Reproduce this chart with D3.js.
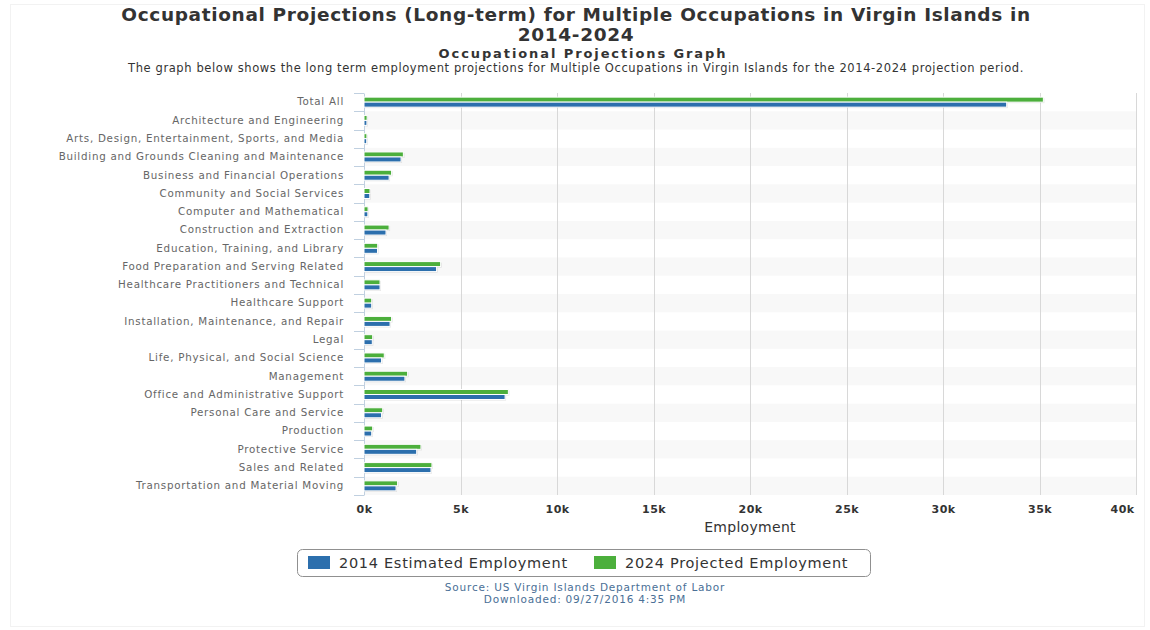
<!DOCTYPE html>
<html><head><meta charset="utf-8">
<script src="https://cdn.jsdelivr.net/npm/d3@7/dist/d3.min.js"></script>
<style>body{margin:0;background:#fff}svg{display:block}</style>
</head><body><svg id="c" width="1150" height="630"></svg>
<script>
const categories = ["Total All","Architecture and Engineering","Arts, Design, Entertainment, Sports, and Media","Building and Grounds Cleaning and Maintenance","Business and Financial Operations","Community and Social Services","Computer and Mathematical","Construction and Extraction","Education, Training, and Library","Food Preparation and Serving Related","Healthcare Practitioners and Technical","Healthcare Support","Installation, Maintenance, and Repair","Legal","Life, Physical, and Social Science","Management","Office and Administrative Support","Personal Care and Service","Production","Protective Service","Sales and Related","Transportation and Material Moving"];
const est2014 = [33300,150,140,1920,1300,300,200,1140,700,3760,830,400,1350,430,910,2120,7310,910,400,2730,3470,1660];
const proj2024 = [35200,160,150,2040,1430,310,210,1300,710,3970,830,400,1430,450,1050,2260,7480,970,450,2950,3520,1740];
const xTicks = [0,5000,10000,15000,20000,25000,30000,35000,40000];
const seriesNames = ["2014 Estimated Employment","2024 Projected Employment"];
const colors = ["#2c6fad","#4caf3c"];

(function(){
const svg = d3.select("#c");
const pL = 364, pR = 1136, pT = 93, pB = 495;
const x = d3.scaleLinear().domain([0,40000]).range([pL,pR]);
const y = d3.scaleBand().domain(categories).range([pT,pB]);

svg.append("rect").attr("x",10.5).attr("y",4.5).attr("width",1134).attr("height",622)
  .attr("fill","none").attr("stroke","#f2f2f2");

const tf = "'DejaVu Sans',Verdana,sans-serif";
svg.append("text").attr("x",576).attr("y",21).attr("text-anchor","middle")
  .attr("font-family",tf).attr("font-weight","bold").attr("font-size",18.5).attr("letter-spacing",0.65).attr("fill","#333")
  .text("Occupational Projections (Long-term) for Multiple Occupations in Virgin Islands in");
svg.append("text").attr("x",576).attr("y",40.5).attr("text-anchor","middle")
  .attr("font-family",tf).attr("font-weight","bold").attr("font-size",18.5).attr("letter-spacing",0.65).attr("fill","#333")
  .text("2014-2024");
svg.append("text").attr("x",583).attr("y",58).attr("text-anchor","middle")
  .attr("font-family",tf).attr("font-weight","bold").attr("font-size",13).attr("letter-spacing",1.9).attr("fill","#333")
  .text("Occupational Projections Graph");
svg.append("text").attr("x",576).attr("y",71.5).attr("text-anchor","middle")
  .attr("font-family",tf).attr("font-size",11.5).attr("letter-spacing",0.6).attr("fill","#333")
  .text("The graph below shows the long term employment projections for Multiple Occupations in Virgin Islands for the 2014-2024 projection period.");

svg.append("g").selectAll("rect").data(categories.filter((d,i)=>i%2===1)).join("rect")
  .attr("x",pL).attr("width",pR-pL).attr("y",d=>y(d)).attr("height",y.bandwidth())
  .attr("fill","#f8f8f8");

svg.append("g").selectAll("line").data(xTicks.slice(1)).join("line")
  .attr("x1",d=>Math.round(x(d))+0.5).attr("x2",d=>Math.round(x(d))+0.5)
  .attr("y1",pT).attr("y2",pB).attr("stroke","#d8d8d8");

const yAxis = d3.axisLeft(y).tickSize(0).tickPadding(20);
const gy = svg.append("g").attr("transform",`translate(${pL},0)`).call(yAxis);
gy.select(".domain").attr("stroke","#c0d0e0");
gy.selectAll("text").attr("font-family",tf).attr("font-size",10.3).attr("letter-spacing",0.75).attr("fill","#666");
svg.append("g").selectAll("line").data(d3.range(categories.length+1)).join("line")
  .attr("x1",pL-10).attr("x2",pL).attr("y1",i=>Math.round(pT+i*y.step())+0.5).attr("y2",i=>Math.round(pT+i*y.step())+0.5)
  .attr("stroke","#c0d0e0");

const bh = 5;
const rows = svg.append("g").selectAll("g").data(categories).join("g")
  .attr("transform",d=>`translate(0,${y(d)+y.bandwidth()/2})`);
[proj2024, est2014].forEach((vals,k)=>{
  const off = k===0 ? -bh : 0;
  const ci = k===0 ? 1 : 0;
  rows.append("rect").attr("x",pL+1).attr("y",off+1).attr("width",(d,i)=>x(vals[i])-pL).attr("height",bh)
    .attr("fill","#000").attr("opacity",0.12);
  rows.append("rect").attr("x",pL).attr("y",off).attr("width",(d,i)=>x(vals[i])-pL).attr("height",bh)
    .attr("fill",colors[ci]).attr("stroke","#fff").attr("stroke-width",1);
});

const gx = svg.append("g").attr("transform",`translate(0,${pB})`)
  .call(d3.axisBottom(x).tickValues(xTicks).tickSize(0).tickPadding(10).tickFormat(d=>(d/1000)+"k"));
gx.select(".domain").remove();
gx.selectAll("text").attr("font-family",tf).attr("font-weight","bold")
  .attr("font-size",11).attr("letter-spacing",0.4).attr("fill","#333");
gx.selectAll(".tick").filter(d=>d===40000).select("text").attr("dx",-14);

svg.append("text").attr("x",(pL+pR)/2).attr("y",532).attr("text-anchor","middle")
  .attr("font-family",tf).attr("font-size",14).attr("letter-spacing",0.3).attr("fill","#333").text("Employment");

svg.append("rect").attr("x",297.5).attr("y",549.5).attr("width",573).attr("height",27).attr("rx",5)
  .attr("fill","#fff").attr("stroke","#909090");
const lg = svg.append("g");
const lx = [308,594];
seriesNames.forEach((n,i)=>{
  lg.append("rect").attr("x",lx[i]).attr("y",556).attr("width",22).attr("height",13).attr("fill",colors[i]);
  lg.append("text").attr("x",lx[i]+31).attr("y",568).attr("font-family",tf).attr("font-size",14.5).attr("letter-spacing",0.7).attr("fill","#333").text(n);
});

svg.append("text").attr("x",585).attr("y",591).attr("text-anchor","middle").attr("font-family",tf)
  .attr("font-size",10.5).attr("letter-spacing",0.8).attr("fill","#4a6f96").text("Source: US Virgin Islands Department of Labor");
svg.append("text").attr("x",585).attr("y",603).attr("text-anchor","middle").attr("font-family",tf)
  .attr("font-size",10.5).attr("letter-spacing",0.8).attr("fill","#4a6f96").text("Downloaded: 09/27/2016 4:35 PM");
})();
</script></body></html>
